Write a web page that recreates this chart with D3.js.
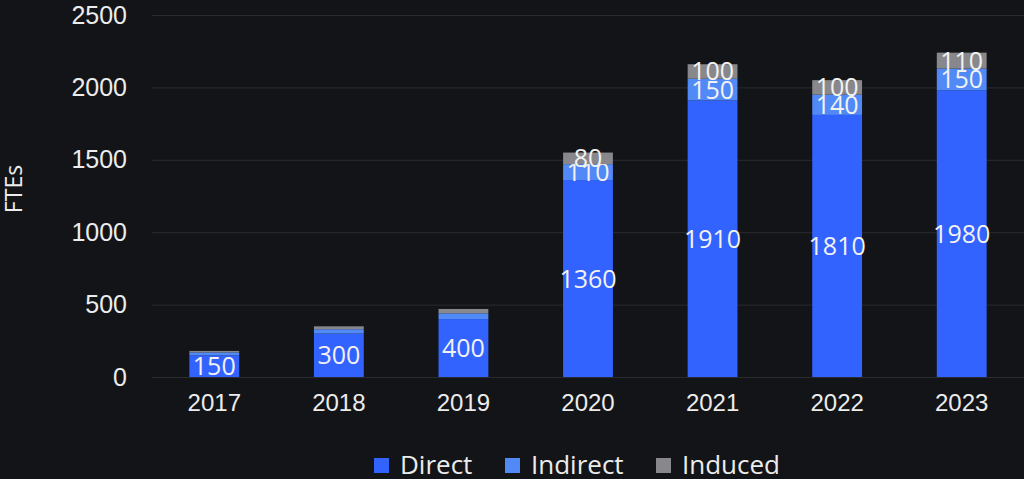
<!DOCTYPE html>
<html>
<head>
<meta charset="utf-8">
<script src="https://cdn.jsdelivr.net/npm/d3@7"></script>
<style>
  html, body { margin: 0; padding: 0; background: #131417; }
  svg { display: block; font-family: "Open Sans", "Noto Sans", sans-serif; font-weight: 500; }
</style>
</head>
<body>
<svg width="1024" height="479"></svg>
<script>
var years = ["2017", "2018", "2019", "2020", "2021", "2022", "2023"];
var direct = [150, 300, 400, 1360, 1910, 1810, 1980];
var indirect = [20, 30, 40, 110, 150, 140, 150];
var induced = [10, 20, 30, 80, 100, 100, 110];
var seriesNames = ["Direct", "Indirect", "Induced"];
var yTicks = [0, 500, 1000, 1500, 2000, 2500];

var colors = ["#3363ff", "#5189f7", "#88888c"];

var svg = d3.select("svg");
var width = 1024, height = 479;
var margin = {top: 15, right: 0, bottom: 102, left: 152};

var rows = years.map(function(y, i) {
  return {year: y, Direct: direct[i], Indirect: indirect[i], Induced: induced[i]};
});

var series = d3.stack().keys(seriesNames)(rows);

var x = d3.scaleBand()
  .domain(years)
  .range([margin.left, width - margin.right])
  .paddingInner(0.6)
  .paddingOuter(0.3);

var y = d3.scaleLinear()
  .domain([0, 2500])
  .range([height - margin.bottom, margin.top]);

// grid
svg.append("g")
  .selectAll("line")
  .data(yTicks)
  .enter().append("line")
  .attr("x1", margin.left)
  .attr("x2", width)
  .attr("y1", function(d) { return y(d) + 0.5; })
  .attr("y2", function(d) { return y(d) + 0.5; })
  .attr("stroke", "#2a2b31")
  .attr("stroke-width", 1);

// y axis labels
var yAxis = d3.axisLeft(y).tickValues(yTicks).tickFormat(d3.format("d"))
  .tickSize(0).tickPadding(25);
svg.append("g")
  .attr("transform", "translate(" + margin.left + ",0)")
  .call(yAxis)
  .call(function(g) { g.select(".domain").remove(); })
  .selectAll("text")
  .attr("fill", "#ececec")
  .style("font-size", "25px");

// x axis labels
var xAxis = d3.axisBottom(x).tickSize(0).tickPadding(17);
svg.append("g")
  .attr("transform", "translate(0," + y(0) + ")")
  .call(xAxis)
  .call(function(g) { g.select(".domain").remove(); })
  .selectAll("text")
  .attr("fill", "#ececec")
  .style("font-size", "24px");

// axis title
svg.append("text")
  .attr("transform", "translate(22," + (y(1250) - 7) + ")rotate(-90)")
  .attr("text-anchor", "middle")
  .attr("fill", "#ececec")
  .style("font-size", "23px")
  .text("FTEs");

// bars
var layers = svg.append("g")
  .selectAll("g")
  .data(series)
  .enter().append("g")
  .attr("fill", function(d, i) { return colors[i]; });

layers.selectAll("rect")
  .data(function(d) { return d; })
  .enter().append("rect")
  .attr("x", function(d) { return x(d.data.year); })
  .attr("width", x.bandwidth())
  .attr("y", function(d) { return y(d[1]); })
  .attr("height", function(d) { return y(d[0]) - y(d[1]); });

// value labels
layers.selectAll("text")
  .data(function(d) { return d; })
  .enter().append("text")
  .filter(function(d) { return d[1] - d[0] >= 60 || d[0] === 0; })
  .attr("x", function(d) { return x(d.data.year) + x.bandwidth() / 2; })
  .attr("y", function(d) { return (y(d[0]) + y(d[1])) / 2; })
  .attr("dy", "0.36em")
  .attr("text-anchor", "middle")
  .attr("fill", "#f2f2f2")
  .style("font-size", "25px")
  .text(function(d) { return d[1] - d[0]; });

// legend
var legendX = [374, 505, 656];
var legend = svg.append("g")
  .selectAll("g")
  .data(seriesNames)
  .enter().append("g")
  .attr("transform", function(d, i) { return "translate(" + legendX[i] + ",465)"; });

legend.append("rect")
  .attr("x", 0)
  .attr("y", -7)
  .attr("width", 15)
  .attr("height", 15)
  .attr("fill", function(d, i) { return colors[i]; });

legend.append("text")
  .attr("x", 26)
  .attr("y", 0)
  .attr("dy", "0.36em")
  .attr("fill", "#ececec")
  .style("font-size", "26px")
  .text(function(d) { return d; });
</script>
</body>
</html>
